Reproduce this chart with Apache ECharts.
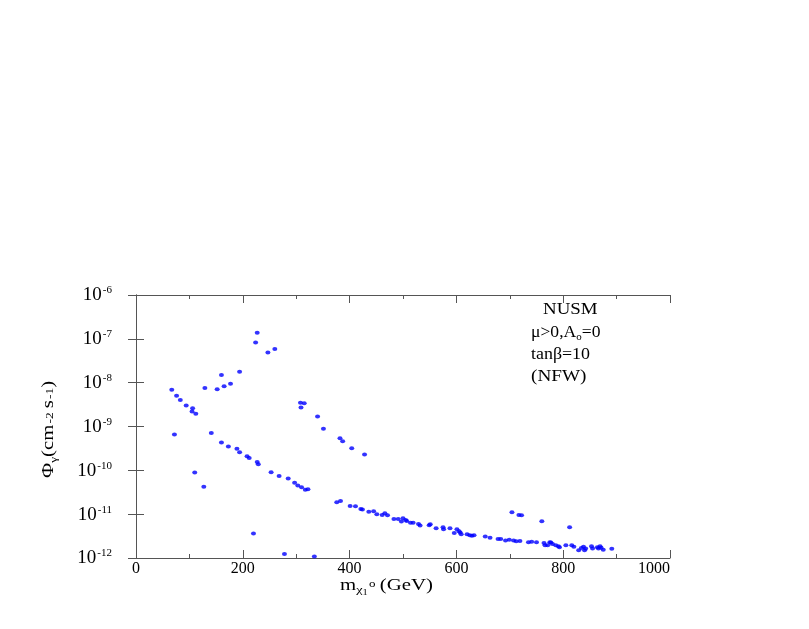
<!DOCTYPE html>
<html>
<head>
<meta charset="utf-8">
<script src="https://cdn.jsdelivr.net/npm/echarts@6/dist/echarts.min.js"></script>
<style>
  html, body { margin: 0; padding: 0; background: #fff; }
  #chart { width: 809px; height: 629px; }
</style>
</head>
<body>
<div id="chart"></div>
<script>
// upper branch (neutralino mass in GeV, flux in cm^-2 s^-1)
var upperMass = [67, 76, 83, 94, 106, 105, 112, 129, 152, 160, 165, 177, 194, 224, 227, 247, 260,
  308, 315, 309, 340, 351, 382, 387, 404, 428];
var upperFlux = [6.9e-9, 5.0e-9, 4.0e-9, 3.0e-9, 2.6e-9, 2.2e-9, 1.96e-9, 7.6e-9, 7.1e-9, 1.5e-8, 8.3e-9, 9.5e-9, 1.78e-8, 8.3e-8, 1.38e-7, 4.9e-8, 5.9e-8,
  3.5e-9, 3.4e-9, 2.7e-9, 1.7e-9, 8.9e-10, 5.4e-10, 4.6e-10, 3.2e-10, 2.3e-10];

// middle band
var midMass = [72, 141, 160, 173, 189, 194, 208, 212, 227, 229, 253, 268, 285, 297, 303, 310, 317, 322];
var midFlux = [6.6e-10, 7.1e-10, 4.3e-10, 3.5e-10, 3.1e-10, 2.6e-10, 2.1e-10, 1.9e-10, 1.55e-10, 1.38e-10,
  9.0e-11, 7.4e-11, 6.5e-11, 5.2e-11, 4.5e-11, 4.1e-11, 3.6e-11, 3.7e-11];

// main lower band
var lowMass = [376, 383, 401, 411, 421, 424, 436, 445, 451, 461, 466, 471, 483, 491, 497, 500, 505, 507, 514, 519,
  529, 532, 549, 551, 562, 575, 576, 588, 596, 601, 605, 607, 609, 620, 625, 629, 633, 654, 663, 678, 683, 692, 699,
  707, 712, 719, 735, 741, 750, 764, 766, 771, 775, 777, 780, 786, 791, 793, 805, 816, 820, 829, 834, 838, 840, 842,
  853, 855, 864, 866, 869, 871, 875, 891];
var lowFlux = [1.86e-11, 2.0e-11, 1.54e-11, 1.52e-11, 1.32e-11, 1.28e-11, 1.13e-11, 1.16e-11, 1.0e-11, 9.6e-12, 1.05e-11, 9.4e-12, 7.8e-12, 7.8e-12, 6.8e-12, 8.1e-12, 7.4e-12, 7.0e-12, 6.4e-12, 6.4e-12,
  6.0e-12, 5.5e-12, 5.6e-12, 5.9e-12, 4.8e-12, 5.0e-12, 4.5e-12, 4.8e-12, 3.7e-12, 4.5e-12, 4.1e-12, 3.8e-12, 3.5e-12, 3.5e-12, 3.3e-12, 3.2e-12, 3.3e-12, 3.1e-12, 2.9e-12, 2.7e-12, 2.7e-12, 2.5e-12, 2.6e-12,
  2.5e-12, 2.4e-12, 2.45e-12, 2.3e-12, 2.35e-12, 2.3e-12, 2.2e-12, 1.95e-12, 1.95e-12, 2.3e-12, 2.25e-12, 2.1e-12, 1.95e-12, 1.85e-12, 1.75e-12, 1.95e-12, 1.95e-12, 1.8e-12, 1.5e-12, 1.7e-12, 1.8e-12, 1.5e-12, 1.65e-12,
  1.85e-12, 1.65e-12, 1.75e-12, 1.65e-12, 1.85e-12, 1.72e-12, 1.55e-12, 1.62e-12];

// scattered points
var oddMass = [110, 127, 220, 278, 334, 704, 717, 722, 760, 812];
var oddFlux = [8.9e-11, 4.2e-11, 3.6e-12, 1.23e-12, 1.08e-12, 1.1e-11, 9.6e-12, 9.4e-12, 6.9e-12, 5.0e-12];

var xTicks = [0, 200, 400, 600, 800, 1000];
var yExp = [-12, -11, -10, -9, -8, -7, -6];

function pairs(xs, ys) {
  return xs.map(function (x, i) { return [x, ys[i]]; });
}

var font = '"Liberation Serif", "DejaVu Serif", serif';
var axisColor = '#555';

var myChart = echarts.init(document.getElementById('chart'));

function dots(name, xs, ys) {
  return {
    name: name,
    type: 'scatter',
    xAxisIndex: 0,
    yAxisIndex: 0,
    symbol: 'circle',
    symbolSize: [5, 4],
    itemStyle: { color: '#0000ff' },
    data: pairs(xs, ys)
  };
}

var option = {
  backgroundColor: '#fff',
  animation: false,
  grid: { left: 136, right: 139, top: 295, bottom: 71 },
  xAxis: [
    {
      type: 'value',
      min: xTicks[0],
      max: xTicks[xTicks.length - 1],
      interval: 200,
      axisLine: { lineStyle: { color: axisColor, width: 1 } },
      axisTick: { inside: true, length: 8, lineStyle: { color: axisColor } },
      minorTick: { show: true, splitNumber: 2, length: 4, lineStyle: { color: axisColor } },
      splitLine: { show: false },
      axisLabel: {
        color: '#000', fontFamily: font, fontSize: 16, margin: 3,
        alignMaxLabel: 'right',
        formatter: function (v) { return String(v); }
      }
    },
    {
      type: 'value',
      position: 'top',
      min: xTicks[0],
      max: xTicks[xTicks.length - 1],
      interval: 200,
      axisLine: { lineStyle: { color: axisColor, width: 1 } },
      axisTick: { inside: true, length: 8, lineStyle: { color: axisColor } },
      minorTick: { show: true, splitNumber: 2, length: 4, lineStyle: { color: axisColor } },
      splitLine: { show: false },
      axisLabel: { show: false }
    }
  ],
  yAxis: [
    {
      type: 'log',
      logBase: 10,
      min: Math.pow(10, yExp[0]),
      max: Math.pow(10, yExp[yExp.length - 1]),
      interval: 1,
      axisLine: { show: true, lineStyle: { color: axisColor, width: 1 } },
      axisTick: { show: true, inside: true, length: 8, lineStyle: { color: axisColor } },
      splitLine: { show: false },
      axisLabel: {
        margin: 24,
        formatter: function (v) {
          var e = Math.round(Math.log(v) / Math.LN10);
          return '{b|10}{s|' + e + '}';
        },
        rich: {
          b: { fontFamily: font, fontSize: 19, color: '#000', verticalAlign: 'bottom', lineHeight: 18 },
          s: { fontFamily: font, fontSize: 11, color: '#000', verticalAlign: 'top', padding: [0, 0, 9, 1] }
        }
      }
    },
    {
      type: 'log',
      logBase: 10,
      position: 'right',
      min: Math.pow(10, yExp[0]),
      max: Math.pow(10, yExp[yExp.length - 1]),
      interval: 1,
      axisLine: { show: true, lineStyle: { color: axisColor, width: 1 } },
      axisTick: { show: true, inside: true, length: 8, lineStyle: { color: axisColor } },
      splitLine: { show: false },
      axisLabel: { show: false }
    }
  ],
  graphic: [
    {
      type: 'text',
      x: 340,
      y: 574,
      scaleX: 1.3,
      style: {
        text: '{m|m}{c|χ}{n|1}{o|o} {m|(GeV)}',
        rich: {
          m: { fontFamily: font, fontSize: 16, fill: '#000' },
          c: { fontFamily: font, fontSize: 11, fill: '#000', padding: [10, 0, 0, 0] },
          n: { fontFamily: font, fontSize: 8, fill: '#000', padding: [15, 0, 0, 0] },
          o: { fontFamily: font, fontSize: 10, fill: '#000', padding: [0, 0, 3, 1] }
        }
      }
    },
    {
      type: 'text',
      x: 37,
      y: 478,
      rotation: Math.PI / 2,
      scaleX: 1.22,
      style: {
        text: '{m|Φ}{g|γ}{m|(cm}{s|-2} {m|s}{s|-1}{m|)}',
        rich: {
          m: { fontFamily: font, fontSize: 17, fill: '#000' },
          g: { fontFamily: font, fontSize: 11, fill: '#000', padding: [12, 0, 0, 0] },
          s: { fontFamily: font, fontSize: 11, fill: '#000', padding: [3, 0, 0, 1] }
        }
      }
    },
    {
      type: 'text',
      x: 543,
      y: 302,
      scaleX: 1.18,
      style: { text: 'NUSM', font: '16px ' + font, fill: '#000' }
    },
    {
      type: 'text',
      x: 531,
      y: 324,
      scaleX: 1.1,
      style: {
        text: '{m|μ>0,A}{s|o}{m|=0}',
        rich: {
          m: { fontFamily: font, fontSize: 16, fill: '#000' },
          s: { fontFamily: font, fontSize: 10, fill: '#000', padding: [8, 0, 0, 0] }
        }
      }
    },
    {
      type: 'text',
      x: 531,
      y: 347,
      scaleX: 1.12,
      style: { text: 'tanβ=10', font: '16px ' + font, fill: '#000' }
    },
    {
      type: 'text',
      x: 531,
      y: 369,
      scaleX: 1.2,
      style: { text: '(NFW)', font: '16px ' + font, fill: '#000' }
    }
  ],
  series: [
    dots('upper', upperMass, upperFlux),
    dots('mid', midMass, midFlux),
    dots('low', lowMass, lowFlux),
    dots('odd', oddMass, oddFlux)
  ]
};
myChart.setOption(option);
</script>
</body>
</html>
